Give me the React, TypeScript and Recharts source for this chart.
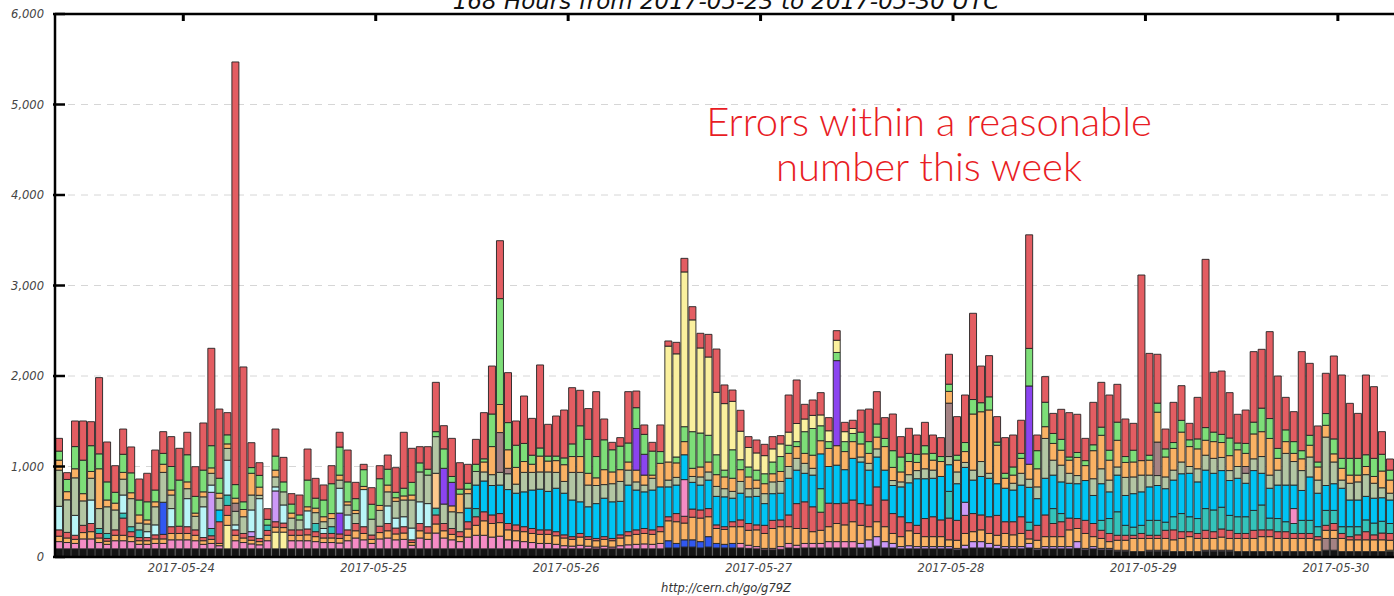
import React from 'react';
import { BarChart, Bar, XAxis, YAxis, CartesianGrid, Cell } from 'recharts';

const DAYS = ['2017-05-23', '2017-05-24', '2017-05-25', '2017-05-26', '2017-05-27', '2017-05-28', '2017-05-29', '2017-05-30'];
const START_HOUR = 8;
const N_BARS = 168;
const HOURS: string[] = [];
for (let i = 0; i < N_BARS; i++) {
  const h = i + START_HOUR;
  HOURS.push(`${DAYS[Math.floor(h / 24)]} ${String(h % 24).padStart(2, '0')}:00`);
}
const DATE_TICKS = DAYS.slice(1).map((d) => `${d} 00:00`);
const Y_TICKS = [0, 1000, 2000, 3000, 4000, 5000, 6000];

const TITLE = '168 Hours from 2017-05-23 to 2017-05-30 UTC';
const FOOTER = 'http://cern.ch/go/g79Z';
const NOTE_1 = 'Errors within a reasonable';
const NOTE_2 = 'number this week';

const BASE = [
  90,90,90,90,90,90,90,90,90,90, 90,90,90,90,90,90,90,90,90,90,
  90,90,90,90,90,90,90,90,90,90, 90,90,90,90,90,90,90,90,90,90,
  90,90,90,90,90,90,90,90,90,90, 90,90,90,90,90,90,90,90,90,90,
  90,90,90,90,90,90,90,90,90,90, 90,90,90,90,90,90,100,100,110,110,
  100,110,100,100,100,100,95,90,80,80, 85,100,95,100,100,100,100,100,100,100,
  100,100,120,100,100,90,90,90,90,90, 90,90,80,90,100,100,100,95,90,90,
  90,100,80,90,90,90,90,95,80,90, 80,80,65,65,60,60,65,65,65,60,
  60,60,60,65,65,65,65,60,60,60, 60,60,60,60,60,60,60,60,75,75,
  60,60,60,60,60,60,60,60,
];
const LOW_ACC = [
  80,70,60,110,110,70,50,90,90,80, 50,50,60,60,100,100,100,90,50,60,
  35,260,90,70,55,45,90,185,185,90, 90,90,80,70,70,65,90,120,100,60,
  110,120,100,105,40,120,105,175,120,100, 80,130,150,150,130,140,100,90,80,70,
  60,60,50,35,30,40,30,20,30,20, 35,45,50,55,50,60,80,50,80,80,
  70,115,50,40,50,50,35,25,15,15, 30,50,35,50,50,50,70,70,70,70,
  50,90,105,70,50,25,35,25,25,25, 25,25,15,40,70,70,50,35,25,25,
  25,50,15,25,25,25,25,75,15,25, 15,15,10,10,0,0,10,10,10,0,
  0,0,0,10,10,10,10,0,0,0, 0,0,0,0,0,0,0,0,130,130,
  0,0,0,0,0,0,15,0,
];
const ORANGE_LOW = [
  60,50,45,70,80,50,35,60,60,55, 40,40,50,50,70,70,70,60,40,45,
  25,110,60,50,40,35,60,55,50,60, 60,65,55,50,50,50,60,80,70,45,
  70,80,65,70,30,80,70,100,80,60, 55,90,110,160,150,150,110,110,110,100,
  100,100,95,85,75,90,75,70,75,70, 85,100,110,115,110,130,220,240,185,250,
  260,220,165,165,185,185,165,185,165,220, 220,185,185,165,130,145,165,200,185,220,
  200,145,165,165,110,110,165,145,110,110, 110,75,90,130,110,130,110,110,145,130,
  145,50,90,110,110,110,185,145,165,110, 110,75,110,110,145,145,130,130,130,130,
  145,165,145,130,130,145,130,145,145,145, 165,165,145,145,145,145,145,130,90,90,
  145,130,130,130,130,130,110,100,
];
const RED_LOW = [
  70,62,45,80,90,50,30,60,190,55, 35,35,45,50,75,80,75,60,35,40,
  240,110,60,50,40,35,53,60,50,60, 60,65,55,50,50,50,60,80,75,48,
  70,80,65,70,30,80,70,100,80,65, 55,80,95,100,95,100,70,65,55,55,
  50,50,45,35,30,40,30,25,30,25, 35,45,50,55,50,55,45,90,75,90,
  90,90,40,30,55,75,75,55,90,90, 75,130,275,295,275,200,260,220,240,240,
  240,240,385,295,220,220,90,90,200,220, 185,240,220,200,200,165,185,220,130,145,
  185,95,165,240,145,165,130,110,145,145, 90,90,55,55,35,55,35,35,90,110,
  75,55,55,90,75,90,90,55,55,90, 75,75,75,75,55,55,55,35,55,75,
  55,35,55,90,55,75,75,70,
];
const TEAL = [
  0,0,0,0,0,55,55,0,55,55, 85,0,0,0,0,0,0,0,0,80,
  0,115,0,0,0,0,60,0,0,0, 0,0,90,0,75,0,0,0,0,0,
  0,0,0,0,0,0,0,75,0,0, 0,0,90,0,0,0,0,0,0,0,
  0,0,0,0,0,0,0,0,0,0, 0,0,0,0,0,0,0,0,0,0,
  0,0,0,0,0,0,0,0,0,0, 0,0,0,0,0,0,0,0,0,0,
  0,0,0,0,0,0,0,0,0,0, 0,295,0,0,0,0,0,0,0,0,
  0,90,0,0,165,90,0,0,0,0, 110,165,260,110,90,90,165,165,90,145,
  200,165,165,240,240,240,165,185,185,220, 275,130,145,110,110,145,145,110,165,145,
  75,110,90,130,130,130,110,100,
];
const ACC_LOW = [
  0,0,0,0,0,0,0,0,0,0, 0,0,0,355,0,0,0,0,0,400,
  0,0,0,0,55,0,0,340,0,0, 0,0,0,0,0,230,0,0,0,0,
  0,0,0,0,0,0,0,385,0,0, 0,0,0,0,0,0,0,0,0,0,
  0,0,0,0,0,0,0,0,0,0, 0,0,0,0,0,0,0,0,405,0,
  0,0,0,0,0,0,0,0,0,0, 0,0,0,0,0,260,0,0,0,0,
  0,0,0,0,0,0,0,0,0,0, 0,0,0,145,0,0,0,0,0,0,
  0,0,0,0,0,0,0,0,0,0, 0,0,0,0,0,0,0,0,0,0,
  0,0,0,0,0,0,0,0,0,0, 0,0,0,0,165,0,0,0,0,0,
  0,0,0,0,0,0,0,0,
];
const LIGHT_CYAN = [
  260,0,220,0,260,0,0,0,200,0, 0,65,110,0,200,0,310,0,340,80,
  0,385,55,0,240,440,0,45,200,0, 0,200,0,55,0,275,165,0,410,0,
  0,195,110,110,130,240,255,0,0,0, 0,0,0,0,0,0,0,0,0,0,
  0,0,0,0,0,0,0,0,0,0, 0,0,0,0,0,0,0,0,0,0,
  0,0,0,0,0,0,0,0,0,0, 0,0,0,0,0,0,0,0,0,0,
  0,0,0,0,0,0,0,0,0,0, 0,0,0,0,0,0,0,0,0,0,
  0,0,0,0,0,0,0,0,0,0, 0,0,0,0,0,0,0,0,0,0,
  0,0,0,0,0,0,0,0,0,0, 0,0,0,0,0,0,0,0,0,0,
  0,0,0,0,0,0,0,0,
];
const CYAN = [
  0,0,0,0,0,0,0,0,0,0, 0,0,0,0,0,0,0,0,0,0,
  130,0,0,0,0,0,0,0,0,0, 0,0,0,0,0,0,0,0,0,0,
  0,0,0,0,0,0,0,0,0,0, 0,150,260,340,325,315,375,350,385,425,
  450,425,480,460,405,350,330,385,425,405, 370,515,440,405,440,440,330,315,275,295,
  275,315,315,330,260,295,295,315,240,295, 295,405,370,315,350,385,405,425,370,460,
  460,385,330,330,310,330,440,515,440,425, 480,295,405,385,370,425,425,350,370,350,
  350,385,295,405,370,350,385,385,440,310, 405,295,405,330,370,370,370,385,370,405,
  440,480,405,425,405,405,385,425,370,440, 350,330,370,405,260,330,480,370,275,295,
  425,295,295,260,275,260,260,250,
];
const SAGE = [
  400,360,415,270,240,220,295,220,175,310, 75,85,200,330,150,0,110,150,110,130,
  130,130,150,185,165,37,0,110,145,130, 110,0,120,75,90,90,110,110,0,175,
  175,155,185,185,310,330,315,405,215,185, 210,160,150,100,120,140,175,100,215,195,
  190,215,175,130,305,325,240,200,150,200, 220,165,90,75,130,0,75,85,0,65,
  90,90,110,90,75,130,90,90,110,130, 130,130,130,110,75,0,0,0,0,0,
  55,75,90,0,55,55,90,90,110,90, 0,90,130,55,110,165,55,0,0,75,
  130,90,130,440,165,185,110,90,0,185, 165,130,90,200,185,185,130,110,130,110,
  130,75,145,165,165,145,110,130,110,130, 185,145,165,350,260,220,220,145,535,240,
  90,185,200,240,165,110,75,70,
];
const MAUVE = [
  0,0,0,0,0,0,0,0,0,0, 0,0,0,0,0,0,0,0,0,0,
  0,0,90,0,0,0,0,0,0,0, 0,0,0,0,0,0,0,0,0,0,
  0,0,0,0,0,0,0,0,0,0, 0,0,0,0,0,440,60,0,0,0,
  0,0,0,0,0,0,0,0,0,0, 0,0,0,0,0,0,0,0,0,0,
  0,0,0,0,0,0,0,0,0,0, 0,0,0,0,0,0,0,0,0,0,
  0,0,0,0,0,0,0,0,0,0, 0,590,0,0,0,0,0,0,0,0,
  0,0,0,0,0,0,0,0,0,0, 0,0,0,0,0,0,0,370,0,0,
  0,0,0,0,0,0,0,0,75,0, 0,0,0,0,0,0,0,0,0,0,
  0,0,0,0,0,0,0,0,
];
const ORANGE_HIGH = [
  110,90,100,80,75,440,75,75,75,65, 90,45,55,90,55,0,75,35,55,60,
  55,50,55,80,240,90,0,75,0,55, 0,45,50,55,55,55,35,35,35,0,
  55,75,40,45,55,0,0,0,0,65, 205,50,0,110,310,310,205,185,120,90,
  175,120,130,185,175,175,130,85,165,130, 130,90,130,110,35,260,200,160,145,90,
  110,110,130,130,145,130,130,90,110,90, 110,145,130,110,145,145,200,215,200,185,
  145,110,130,260,145,110,145,90,165,110, 165,130,130,120,620,550,700,425,110,90,
  165,165,200,130,185,165,145,200,165,310, 370,220,295,165,165,160,165,330,220,240,
  330,220,220,165,185,165,165,185,145,275, 275,405,130,130,90,130,130,145,130,90,
  130,90,75,90,75,185,145,140,
];
const PURPLE = [
  0,0,0,0,0,0,0,0,0,0, 0,0,0,0,0,0,0,0,0,0,
  0,0,0,0,0,0,0,0,0,0, 0,0,0,0,0,0,0,0,0,0,
  0,0,0,0,0,0,0,0,395,260, 0,0,0,0,0,0,0,0,0,0,
  0,0,0,0,0,0,0,0,0,0, 0,0,460,230,0,0,0,0,0,0,
  0,0,0,0,0,0,0,0,0,0, 0,0,0,0,0,0,0,940,0,0,
  0,0,0,0,0,0,0,0,0,0, 0,0,0,0,0,0,0,0,0,0,
  0,865,0,0,0,0,0,0,0,0, 0,0,0,0,0,0,0,0,0,0,
  0,0,0,0,0,0,0,0,0,0, 0,0,0,0,0,0,0,0,0,0,
  0,0,0,0,0,0,0,0,
];
const GREEN = [
  100,135,245,370,285,165,200,120,200,220, 165,200,130,120,260,510,300,185,240,245,
  165,100,150,85,63,130,63,155,110,100, 55,295,110,185,330,310,220,130,185,165,
  295,175,60,85,140,100,65,55,215,65, 55,65,80,35,360,1170,300,245,200,100,
  90,55,50,75,140,340,375,235,330,245, 260,210,230,220,265,130,0,65,165,405,
  375,295,220,75,315,110,110,110,110,130, 165,90,55,240,295,165,75,90,110,90,
  130,130,145,90,185,165,90,90,90,75, 55,80,55,100,160,100,145,35,55,90,
  55,415,200,270,110,120,35,55,55,65, 90,110,200,65,130,0,55,100,90,65,
  130,75,110,140,105,90,195,75,110,130, 260,220,110,130,130,90,110,55,130,165,
  110,185,185,130,200,185,110,100,
];
const YELLOW = [
  0,0,0,0,0,0,0,0,0,0, 0,0,0,0,0,0,0,0,0,0,
  0,0,0,0,0,0,0,0,0,0, 0,0,0,0,0,0,0,0,0,0,
  0,0,0,0,0,0,0,0,0,0, 0,0,0,0,0,0,0,0,0,0,
  0,0,0,0,0,0,0,0,0,0, 0,0,0,0,0,0,1280,1140,1710,1235,
  940,865,690,735,535,315,215,190,200,145, 140,145,200,140,145,120,120,135,110,55,
  0,0,0,0,0,0,0,0,0,0, 0,0,0,0,0,0,0,0,0,0,
  0,0,0,0,0,0,0,0,0,0, 0,0,0,0,0,0,0,0,0,0,
  0,0,0,0,0,0,0,0,0,0, 0,0,0,0,0,0,0,0,0,0,
  0,0,0,0,0,0,0,0,
];
const RED_TOP = [
  141,75,283,433,265,842,441,294,279,286, 232,315,442,240,330,351,248,328,521,1076,
  765,245,4670,1490,275,140,118,299,271,115, 220,343,219,166,199,163,352,180,59,183,
  144,157,272,618,376,179,249,545,256,421, 292,209,275,510,530,640,552,268,524,407,
  917,351,443,529,621,392,340,717,230,82, 94,567,184,104,97,294,57,127,150,146,
  162,250,478,206,125,231,120,143,125,135, 91,410,481,162,170,246,145,106,103,91,
  244,360,357,230,405,225,277,213,258,203, 209,330,426,525,953,405,455,281,394,353,
  366,1255,173,283,222,332,490,422,246,469, 495,610,418,415,297,2051,1125,540,219,444,
  383,182,459,1859,661,700,501,317,369,779, 650,960,800,359,331,1094,795,398,445,916,
  921,608,497,881,792,250,123,110,
];

const C = {
  black: '#141414',
  pink: '#f58cc5',
  orange: '#fab264',
  red: '#e35d62',
  teal: '#34c3ba',
  lightCyan: '#b9f5f7',
  cyan: '#00c4f4',
  sage: '#b3c6a3',
  mauve: '#a48283',
  green: '#7dde78',
  yellow: '#faf09e',
  purple: '#8b44f0',
  lavender: '#cc99f7',
  blue: '#3158f0',
  peach: '#fdc88d',
};

const LOW_ACC_COLOR: Record<number, string> = {
  21: C.yellow, 27: C.yellow, 28: C.yellow, 166: C.yellow, 158: C.mauve, 159: C.mauve,
};
const lowAccColor = (i: number) => {
  if (LOW_ACC_COLOR[i]) return LOW_ACC_COLOR[i];
  if (i >= 76 && i <= 84) return C.blue;
  if (i >= 100) return C.lavender;
  return C.pink;
};
const ACC_LOW_COLOR: Record<number, string> = {
  13: C.blue, 19: C.lavender, 24: C.lavender, 27: C.lavender, 35: C.purple, 47: C.peach,
  78: C.pink, 95: C.green, 113: C.lavender, 154: C.pink,
};

const data = HOURS.map((hour, i) => ({
  hour,
  base: BASE[i],
  lowAcc: LOW_ACC[i],
  orangeLow: ORANGE_LOW[i],
  redLow: RED_LOW[i],
  teal: TEAL[i],
  accLow: ACC_LOW[i],
  lightCyan: LIGHT_CYAN[i],
  cyan: CYAN[i],
  sage: SAGE[i],
  mauve: MAUVE[i],
  orangeHigh: ORANGE_HIGH[i],
  purple: PURPLE[i],
  green: GREEN[i],
  yellow: YELLOW[i],
  redTop: RED_TOP[i],
}));

const FONT = "'DejaVu Sans', sans-serif";
const NOTE_FONT = "Lato, 'Open Sans', sans-serif";

const YTick = (props: any) => {
  const { x, y, payload } = props;
  return (
    <g>
      <line x1={x} x2={x + 12} y1={y} y2={y} stroke="#000" strokeWidth={2.5} />
      <text x={x - 9} y={y + 4} textAnchor="end" fontSize={11.5} fontStyle="italic" fill="#444" fontFamily={FONT}>
        {Number(payload.value).toLocaleString('en-US')}
      </text>
    </g>
  );
};
const RightTick = (props: any) => {
  const { x, y } = props;
  return <line x1={x - 14} x2={x} y1={y} y2={y} stroke="#000" strokeWidth={2.5} />;
};
const XTick = (props: any) => {
  const { x, y, payload } = props;
  return (
    <text x={x - 6} y={y + 13} textAnchor="middle" fontSize={11.5} fontStyle="italic" fill="#444" fontFamily={FONT}>
      {String(payload.value).slice(0, 10)}
    </text>
  );
};
const TopTick = (props: any) => {
  const { x, y } = props;
  return <line x1={x - 4} x2={x - 4} y1={y} y2={y + 7} stroke="#000" strokeWidth={3} />;
};

const vGen = ({ xAxis }: any) => {
  const s = xAxis && xAxis.scale;
  if (typeof s !== 'function') return [];
  return DATE_TICKS.map((t) => s(t)).filter((v: any) => Number.isFinite(v));
};

const SERIES: { key: string; color: string; cells?: (i: number) => string }[] = [
  { key: 'base', color: C.black },
  { key: 'lowAcc', color: C.pink, cells: lowAccColor },
  { key: 'orangeLow', color: C.orange },
  { key: 'redLow', color: C.red },
  { key: 'teal', color: C.teal },
  { key: 'accLow', color: C.lavender, cells: (i) => ACC_LOW_COLOR[i] || C.lavender },
  { key: 'lightCyan', color: C.lightCyan },
  { key: 'cyan', color: C.cyan },
  { key: 'sage', color: C.sage },
  { key: 'mauve', color: C.mauve },
  { key: 'orangeHigh', color: C.orange },
  { key: 'purple', color: C.purple },
  { key: 'green', color: C.green },
  { key: 'yellow', color: C.yellow },
  { key: 'redTop', color: C.red },
];

export default function App() {
  return (
    <div style={{ position: 'absolute', left: 0, top: 0, width: 1394, height: 596, overflow: 'hidden', background: '#fff' }}>
      <BarChart
        width={1440}
        height={596}
        data={data}
        margin={{ top: 0, right: 0, bottom: 9, left: 0 }}
        barCategoryGap={0.5}
      >
        <CartesianGrid vertical={false} stroke="#d6d6d6" strokeDasharray="7 6" />
        <CartesianGrid horizontal={false} stroke="#d6d6d6" strokeDasharray="2 6" verticalCoordinatesGenerator={vGen} />
        <XAxis
          dataKey="hour"
          ticks={DATE_TICKS}
          interval={0}
          height={30}
          tickSize={0}
          tickMargin={2}
          tickLine={false}
          axisLine={{ stroke: '#000', strokeWidth: 2.5 }}
          tick={<XTick />}
        />
        <XAxis
          xAxisId="top"
          orientation="top"
          dataKey="hour"
          ticks={DATE_TICKS}
          interval={0}
          height={14}
          tickSize={0}
          tickMargin={0}
          tickLine={false}
          axisLine={{ stroke: '#000', strokeWidth: 2.5 }}
          tick={<TopTick />}
        />
        <YAxis
          width={55}
          domain={[0, 6000]}
          ticks={Y_TICKS}
          interval={0}
          tickSize={0}
          tickMargin={2}
          tickLine={false}
          axisLine={{ stroke: '#000', strokeWidth: 2.5 }}
          tick={<YTick />}
        />
        <YAxis
          yAxisId="right"
          orientation="right"
          width={38}
          domain={[0, 6000]}
          ticks={Y_TICKS}
          interval={0}
          tickSize={0}
          tickMargin={2}
          tickLine={false}
          axisLine={{ stroke: '#000', strokeWidth: 2.5 }}
          tick={<RightTick />}
        />
        {SERIES.map((s) => (
          <Bar
            key={s.key}
            dataKey={s.key}
            stackId="a"
            fill={s.color}
            stroke="#222"
            strokeWidth={0.9}
            isAnimationActive={false}
          >
            {s.cells ? data.map((_, i) => <Cell key={i} fill={s.cells!(i)} />) : null}
          </Bar>
        ))}
      </BarChart>
      <svg width={1394} height={596} style={{ position: 'absolute', left: 0, top: 0, pointerEvents: 'none' }}>
        <text x={726} y={9} textAnchor="middle" fontSize={23} fontStyle="italic" fill="#111" fontFamily={FONT}>
          {TITLE}
        </text>
        <text x={929} y={136} textAnchor="middle" fontSize={40} fontWeight={300} fill="#e81c24" fontFamily={NOTE_FONT}>
          {NOTE_1}
        </text>
        <text x={929} y={181} textAnchor="middle" fontSize={40} fontWeight={300} fill="#e81c24" fontFamily={NOTE_FONT}>
          {NOTE_2}
        </text>
        <text x={726} y={592} textAnchor="middle" fontSize={11.5} fontStyle="italic" fill="#333" fontFamily={FONT}>
          {FOOTER}
        </text>
      </svg>
    </div>
  );
}
